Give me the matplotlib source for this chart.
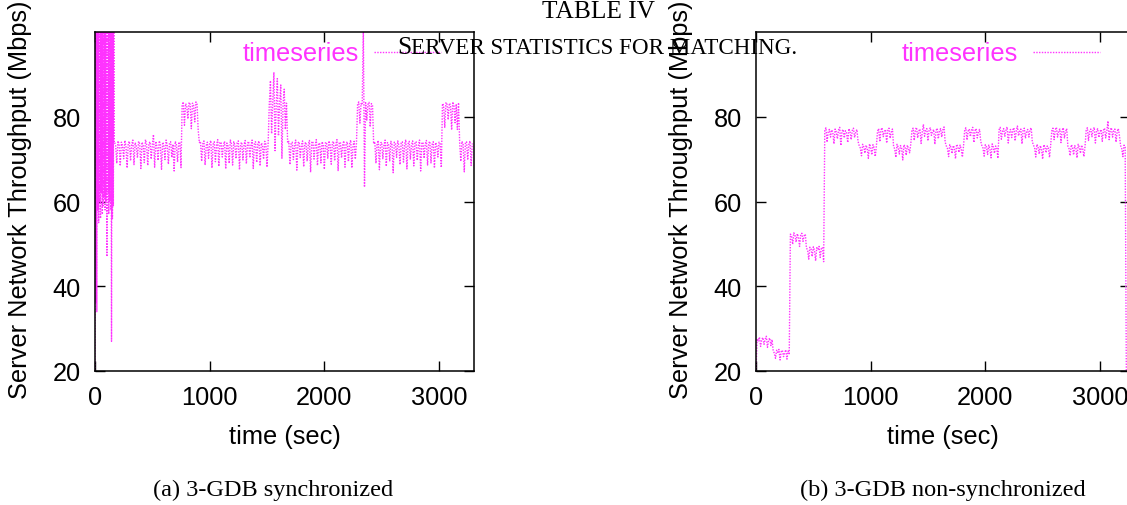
import numpy as np
import matplotlib
matplotlib.use("Agg")
import matplotlib.pyplot as plt

# synchronized run: start-up burst sampled every 4 sec (0-168 sec)
burst_vals = [
    20, 105, 36, 105, 34, 104, 58, 105, 55, 103,
    60, 105, 56, 105, 62, 104, 57, 105, 59, 105,
    61, 104, 58, 105, 60, 105, 47, 105, 62, 104,
    57, 105, 60, 105, 58, 105, 27, 104, 56, 105,
    59, 105, 74.0,
]
# then every 10 sec from 170 sec on (Mbps)
sync_vals = [
    74.1, 73.2, 69.0,
    74.3, 73.5, 68.4, 74.0, 73.2, 70.1, 74.4, 73.0, 67.9, 73.8,
    74.2, 69.6, 73.4, 74.5, 68.7, 73.9, 73.1, 70.3, 74.2, 73.6,
    67.8, 74.0, 73.3, 69.2, 74.6, 73.5, 68.5, 73.7, 74.1, 70.0,
    73.4, 75.8, 68.1, 74.2, 73.0, 69.7, 74.3, 73.6, 67.6, 74.0,
    73.3, 69.9, 74.5, 73.2, 68.8, 73.9, 74.1, 70.4, 73.5, 67.2,
    74.2, 73.4, 69.3, 73.8, 74.0, 68.0, 82.8, 83.5, 78.0, 83.1,
    82.6, 79.5, 83.4, 82.9, 77.2, 83.2, 82.7, 78.8, 83.5, 82.9,
    76.8, 73.9, 74.2, 69.5, 73.6, 74.3, 68.6, 73.2, 74.0, 70.2,
    73.7, 74.4, 67.9, 73.5, 74.1, 69.4, 73.3, 74.6, 68.3, 73.9,
    74.0, 70.5, 73.4, 74.2, 67.7, 73.8, 73.1, 69.0, 74.5, 73.6,
    68.6, 74.1, 73.3, 70.1, 73.9, 74.3, 67.5, 73.6, 74.0, 69.8,
    73.5, 74.4, 68.9, 73.7, 74.2, 70.3, 73.2, 74.5, 67.8, 73.9,
    74.1, 69.2, 73.6, 74.3, 68.4, 73.8, 73.4, 70.0, 74.2, 73.5,
    68.1, 73.9, 83.0, 88.5, 76.0, 83.4, 90.5, 72.0, 82.8, 89.0,
    75.5, 83.3, 87.5, 70.2, 82.9, 86.5, 77.0, 83.2, 73.8, 74.2,
    68.7, 73.6, 74.0, 69.9, 73.4, 74.5, 67.4, 73.8, 74.1, 70.4,
    73.3, 74.3, 68.2, 73.7, 74.0, 69.5, 73.5, 74.4, 66.9, 73.9,
    74.2, 70.0, 73.2, 74.6, 68.5, 73.8, 73.6, 69.1, 74.1, 73.4,
    67.6, 74.0, 73.7, 70.2, 74.3, 73.3, 68.8, 73.9, 74.2, 69.6,
    73.5, 74.6, 67.3, 73.8, 74.0, 70.3, 73.4, 74.3, 68.1, 73.7,
    74.1, 69.4, 73.6, 74.5, 67.9, 73.2, 74.2, 70.0, 73.8, 82.9,
    83.5, 78.5, 83.1, 82.8, 101, 63.4, 83.3, 79.2, 82.9, 83.4,
    77.6, 83.1, 82.7, 73.6, 74.1, 69.0, 73.5, 74.4, 67.5, 73.8,
    74.0, 70.1, 73.3, 74.5, 68.3, 73.9, 73.6, 69.6, 74.2, 73.4,
    66.8, 74.0, 73.7, 70.4, 74.3, 73.2, 68.7, 73.8, 74.1, 69.3,
    73.5, 74.6, 67.7, 73.6, 74.2, 70.0, 73.4, 74.3, 68.4, 73.9,
    74.1, 69.7, 73.2, 74.5, 67.2, 73.7, 74.0, 70.2, 73.6, 74.4,
    68.6, 73.8, 74.2, 69.1, 73.5, 74.1, 67.9, 73.9, 73.3, 70.5,
    74.0, 73.6, 68.0, 83.1, 82.7, 77.5, 83.4, 82.9, 79.3, 83.2,
    82.8, 76.9, 83.5, 82.6, 78.6, 83.0, 77.0, 83.3, 73.9, 69.5,
    74.2, 73.5, 67.0, 73.8, 74.1, 69.8, 73.4, 74.3, 68.5, 73.7,
]

# non-synchronized run, every 10 sec from 0 sec
nonsync_vals = [
    20, 27.6, 27.1, 28.0, 25.8, 27.4, 27.9, 26.3, 27.5, 28.2,
    25.6, 27.3, 27.8, 26.0, 27.4, 24.8, 24.2, 23.0, 24.9, 24.4,
    25.1, 22.6, 24.6, 24.9, 23.4, 24.3, 25.0, 22.8, 24.7, 24.1,
    52.3, 51.8, 49.9, 52.6, 52.0, 50.4, 52.4, 51.6, 49.4, 52.2,
    52.5, 50.6, 51.9, 52.3, 49.0, 48.6, 46.4, 49.2, 48.8, 47.0,
    49.3, 48.5, 46.0, 49.1, 48.7, 49.4, 46.8, 48.9, 49.2, 45.8,
    76.8, 77.4, 74.0, 76.5, 77.0, 75.2, 76.9, 76.3, 73.6, 77.1,
    76.4, 74.8, 76.9, 77.5, 73.2, 76.6, 77.0, 75.0, 76.7, 76.2,
    73.9, 77.2, 76.5, 74.6, 76.8, 77.3, 75.1, 76.4, 77.0, 74.2,
    73.2, 72.6, 70.8, 73.5, 72.9, 71.4, 73.3, 72.5, 70.2, 73.6,
    72.8, 71.0, 73.4, 72.7, 70.6, 73.1, 76.6, 77.2, 74.1, 76.9,
    77.4, 75.3, 76.5, 77.0, 73.8, 76.8, 77.3, 74.9, 76.4, 77.1,
    73.0, 72.4, 70.4, 73.5, 72.8, 71.2, 73.2, 72.6, 69.8, 73.4,
    72.9, 70.9, 73.3, 72.5, 71.5, 73.6, 76.7, 77.3, 74.4, 76.9,
    77.5, 75.0, 76.6, 77.1, 73.7, 76.4, 78.2, 75.4, 76.8, 77.2,
    74.3, 76.9, 77.4, 75.6, 76.5, 77.0, 73.5, 76.7, 77.3, 74.8,
    76.6, 77.2, 75.2, 76.9, 77.6, 74.0, 73.1, 72.5, 70.6, 73.4,
    72.8, 71.3, 73.2, 72.7, 70.1, 73.5, 72.9, 71.6, 73.3, 72.4,
    70.5, 73.1, 76.8, 77.4, 74.5, 76.6, 77.1, 75.3, 76.9, 77.5,
    73.9, 76.7, 77.2, 75.0, 76.5, 77.0, 74.2, 73.2, 72.6, 70.7,
    73.4, 72.9, 71.1, 73.3, 72.5, 70.3, 73.6, 72.8, 71.4, 73.1,
    72.6, 70.2, 76.9, 77.5, 74.7, 76.6, 77.2, 75.4, 76.8, 77.6,
    73.8, 76.5, 77.0, 75.1, 76.9, 77.4, 74.3, 76.7, 77.8, 75.5,
    76.6, 77.1, 73.6, 76.8, 77.3, 74.9, 76.5, 77.0, 75.2, 76.9,
    77.4, 74.1, 73.3, 72.7, 70.5, 73.5, 72.9, 71.2, 73.2, 72.4,
    70.0, 73.4, 72.8, 71.5, 73.1, 72.6, 70.4, 73.3, 76.7, 77.3,
    74.6, 76.9, 77.5, 75.2, 76.6, 77.1, 73.9, 76.8, 77.4, 75.0,
    76.5, 77.2, 73.1, 72.5, 70.8, 73.4, 72.9, 71.0, 73.2, 72.6,
    70.3, 73.5, 72.8, 71.4, 73.3, 72.4, 70.6, 73.1, 76.8, 77.4,
    74.4, 76.6, 77.1, 75.3, 76.9, 77.5, 73.8, 76.7, 77.2, 75.1,
    76.5, 77.0, 74.2, 76.8, 77.3, 75.0, 76.6, 79.0, 74.6, 76.9,
    77.4, 75.2, 76.7, 77.1, 74.0, 76.5, 77.2, 75.5, 73.2, 72.5,
    70.6, 73.3, 72.8, 20,
]

burst_t = np.arange(len(burst_vals)) * 4
sync_t = np.concatenate([burst_t, 170 + np.arange(len(sync_vals)) * 10])
sync_all = burst_vals + sync_vals
nonsync_t = np.arange(len(nonsync_vals)) * 10

xticks = [0, 1000, 2000, 3000]
yticks = [20, 40, 60, 80]
captions = ["(a) 3-GDB synchronized", "(b) 3-GDB non-synchronized"]

W, H = 1127, 506
sans = "Liberation Sans"
serif = "Liberation Serif"
col = "#ff33ff"
fs = 18.3

fig = plt.figure(figsize=(W / 100, H / 100), dpi=100)


def fx(x):
    return x / W


def fy(y):
    return 1 - y / H


ax1 = fig.add_axes([fx(95), fy(372), 379 / W, 339 / H])
ax2 = fig.add_axes([fx(756), fy(372), 374 / W, 339 / H])

panels = [
    (ax1, sync_t, sync_all, 3305, 0.913),
    (ax2, nonsync_t, nonsync_vals, 3262, 0.92),
]

for ax, t, v, xmax, legx in panels:
    ax.plot(t, v, color=col, lw=1.0, ls=(0, (1, 1)), label="timeseries")
    ax.set_xlim(0, xmax)
    ax.set_ylim(20, 100)
    ax.set_xticks(xticks)
    ax.set_yticks(yticks)
    ax.tick_params(direction="in", length=7, width=1, top=True, right=True,
                   labelsize=fs, pad=10)
    for lab in ax.get_xticklabels() + ax.get_yticklabels():
        lab.set_family(sans)
    for s in ax.spines.values():
        s.set_linewidth(1.1)
    ax.legend(loc="upper right", bbox_to_anchor=(legx, 0.972),
              frameon=False, markerfirst=False, handlelength=2.65,
              handletextpad=0.58, borderpad=0, borderaxespad=0,
              labelcolor=col, prop={"family": sans, "size": fs})

# axis labels and captions
for xc, cap_x, cap in [(284.5, 273, captions[0]), (943, 943, captions[1])]:
    fig.text(fx(xc), fy(437), "time (sec)", ha="center", va="center",
             family=sans, fontsize=fs)
    fig.text(fx(cap_x), fy(490), cap, ha="center", va="center",
             family=serif, fontsize=17.5)
for xc in [20, 681]:
    fig.text(fx(xc), fy(200), "Server Network Throughput (Mbps)",
             rotation=90, ha="center", va="center", family=sans, fontsize=fs)

# table caption overlapping the figures
fig.text(fx(599), fy(12), "TABLE IV", ha="center", va="center",
         family=serif, fontsize=18.3)
fig.text(fx(397), fy(54), "S", ha="left", va="baseline",
         family=serif, fontsize=18.3)
fig.text(fx(411), fy(54), "ERVER STATISTICS FOR MATCHING.", ha="left",
         va="baseline", family=serif, fontsize=16.6)

fig.savefig("out.png", dpi=100)
